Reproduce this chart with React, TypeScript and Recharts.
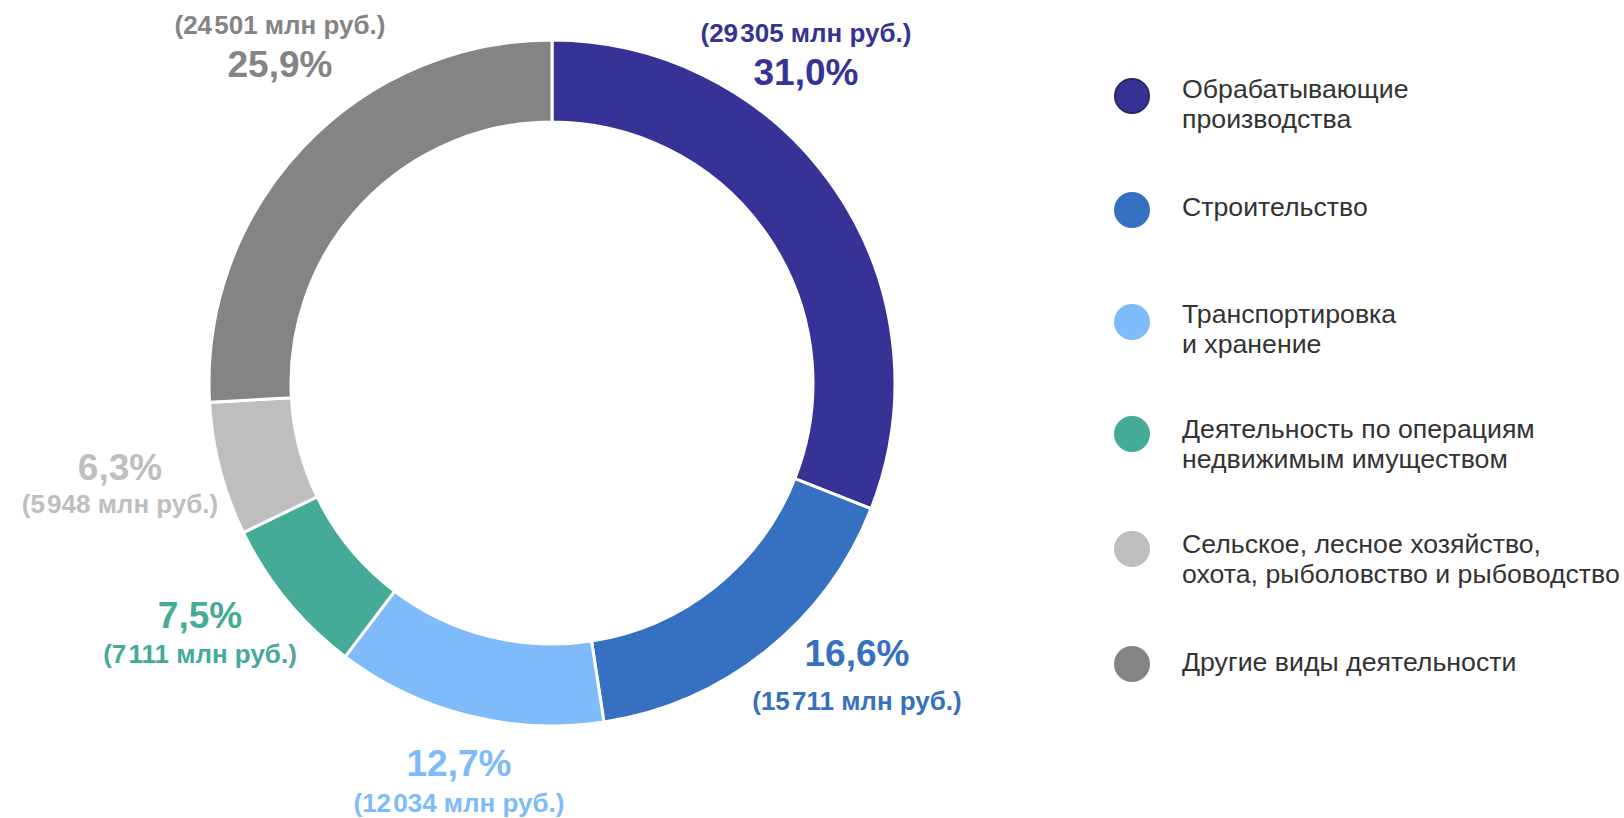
import React from 'react';
import { PieChart, Pie, Cell, Legend } from 'recharts';

const CATEGORIES: string[] = [
  'Обрабатывающие\nпроизводства',
  'Строительство',
  'Транспортировка\nи хранение',
  'Деятельность по операциям\nнедвижимым имуществом',
  'Сельское, лесное хозяйство,\nохота, рыболовство и рыбоводство',
  'Другие виды деятельности',
];
const VALUES: number[] = [29305, 15711, 12034, 7111, 5948, 24501];
const UNIT = 'млн руб.';

const COLORS = ['#373295', '#3670C0', '#7FBAFA', '#46AA98', '#BEBEBE', '#848484'];

// label placement relative to pie centre (layout only)
const LABEL_LAYOUT = [
  { dx: 254, pctDy: -311, moneyDy: -350 },
  { dx: 305, pctDy: 270, moneyDy: 318 },
  { dx: -93, pctDy: 380, moneyDy: 420 },
  { dx: -352, pctDy: 232, moneyDy: 271 },
  { dx: -432, pctDy: 84, moneyDy: 121 },
  { dx: -272, pctDy: -319, moneyDy: -358 },
];

const LEGEND_Y = [96, 210, 322, 434, 549, 664];
const LEGEND_TEXT_SHIFT = [-4, 0, -5, -2, -2, 1];

const data = CATEGORIES.map((name, i) => ({ name, value: VALUES[i] }));

const FONT = '"Liberation Sans", Arial, Helvetica, sans-serif';

const fmt = (v: number) => String(v).replace(/\B(?=(\d{3})+(?!\d))/g, '\u200A');

const renderLabel = (props: any) => {
  const { cx, cy, index, value, percent } = props;
  const l = LABEL_LAYOUT[index];
  const pct = (percent * 100).toFixed(1).replace('.', ',') + '%';
  const color = COLORS[index];
  return (
    <g>
      <text
        x={cx + l.dx}
        y={cy + l.pctDy}
        textAnchor="middle"
        dominantBaseline="central"
        fill={color}
        style={{ fontFamily: FONT, fontWeight: 700, fontSize: 37 }}
      >
        {pct}
      </text>
      <text
        x={cx + l.dx}
        y={cy + l.moneyDy}
        textAnchor="middle"
        dominantBaseline="central"
        fill={color}
        style={{ fontFamily: FONT, fontWeight: 700, fontSize: 26 }}
      >
        {`(${fmt(value)} ${UNIT})`}
      </text>
    </g>
  );
};

const renderLegend = () => (
  <div style={{ position: 'relative', width: 510, height: 818 }}>
    {CATEGORIES.map((name, i) => (
      <div key={name} style={{ position: 'absolute', left: 0, top: LEGEND_Y[i] - 18 }}>
        <div
          style={{
            position: 'absolute',
            left: 0,
            top: 0,
            width: 36,
            height: 36,
            borderRadius: '50%',
            background: COLORS[i],
            boxSizing: 'border-box',
            border: i === 0 ? '2px solid #2a266f' : 'none',
          }}
        />
        <div
          style={{
            position: 'absolute',
            left: 68,
            top: LEGEND_TEXT_SHIFT[i],
            whiteSpace: 'pre',
            fontFamily: FONT,
            fontSize: 26.7,
            lineHeight: '30px',
            color: '#333333',
          }}
        >
          {name}
        </div>
      </div>
    ))}
  </div>
);

export default function App() {
  return (
    <div style={{ position: 'absolute', left: 0, top: 0, width: 1624, height: 818, background: '#fff' }}>
      <PieChart width={1624} height={818} margin={{ top: 0, right: 0, bottom: 0, left: 0 }}>
        <Pie
          data={data}
          dataKey="value"
          nameKey="name"
          cx={552}
          cy={383}
          innerRadius={261}
          outerRadius={343}
          startAngle={90}
          endAngle={-270}
          stroke="#ffffff"
          strokeWidth={3}
          label={renderLabel}
          labelLine={false}
          isAnimationActive={false}
        >
          {data.map((d, i) => (
            <Cell key={d.name} fill={COLORS[i]} />
          ))}
        </Pie>
        <Legend
          content={renderLegend}
          wrapperStyle={{ position: 'absolute', left: 1114, top: 0, width: 510, height: 818 }}
        />
      </PieChart>
    </div>
  );
}
